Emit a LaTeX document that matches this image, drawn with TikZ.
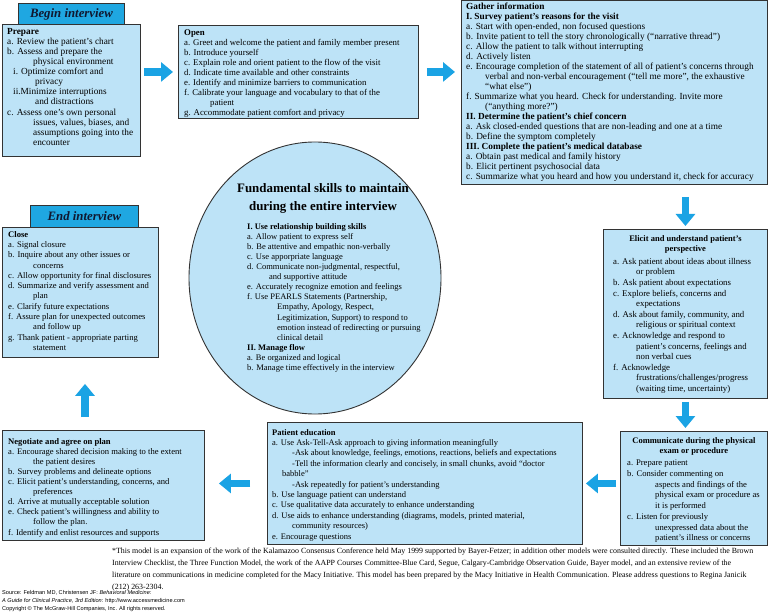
\documentclass[tikz,border=0pt]{standalone}
\usepackage{fontspec}
\setmainfont{Liberation Serif}
\setsansfont{Liberation Sans}
\usetikzlibrary{arrows.meta,calc,shapes.geometric}
\definecolor{boxfill}{HTML}{BDE3F7}
\definecolor{tabfill}{HTML}{1FA7E1}
\definecolor{arrowblue}{HTML}{1AA3E4}
\definecolor{edge}{HTML}{333333}
\definecolor{tabtext}{HTML}{101830}
\tikzset{
  panel/.style={draw=edge, line width=0.9bp, fill=boxfill, inner sep=0pt, anchor=north west},
  tabbox/.style={draw=edge, line width=0.9bp, fill=tabfill, inner sep=0pt, anchor=north west, text=tabtext, font=\fontsize{12.8bp}{14bp}\selectfont\bfseries\itshape},
  body/.style={anchor=north west, inner sep=0pt, align=left, font=\fontsize{8.6bp}{10.2bp}\selectfont},
  head/.style={anchor=north, inner sep=0pt, align=center, font=\fontsize{8.5bp}{10.7bp}\selectfont\bfseries},
  flow/.style={draw=arrowblue, line width=7.5bp, -{Triangle[width=19bp,length=12bp]}},
}
\newcommand\ind[1]{\hspace*{#1bp}}
\begin{document}
\begin{tikzpicture}[x=1bp,y=-1bp]
\useasboundingbox[fill=white] (0,0) rectangle (769,613);

% ---- Begin / Prepare
\node[tabbox, minimum width=106bp, minimum height=21bp] (begintab) at (18,3) {Begin interview};
\node[panel, minimum width=138bp, minimum height=132bp] (prep) at (2,24) {};
\node[body, font=\fontsize{9.3bp}{10.1bp}\selectfont] (preptxt) at ($(prep.north west)+(5,4)$) {\textbf{Prepare}\\
a. Review the patient's chart\\
b. Assess and prepare the\\
\ind{26}physical environment\\
\ind{6}i. Optimize comfort and\\
\ind{28}privacy\\
\ind{6}ii.Minimize interruptions\\
\ind{28}and distractions\\
c. Assess one's own personal\\
\ind{26}issues, values, biases, and\\
\ind{26}assumptions going into the\\
\ind{26}encounter};

% ---- Open
\node[panel, minimum width=240bp, minimum height=93bp] (open) at (178,25) {};
\node[body, font=\fontsize{8.8bp}{10bp}\selectfont] (opentxt) at ($(open.north west)+(6,4.5)$) {\textbf{Open}\\
a. Greet and welcome the patient and family member present\\
b. Introduce yourself\\
c. Explain role and orient patient to the flow of the visit\\
d. Indicate time available and other constraints\\
e. Identify and minimize barriers to communication\\
f. Calibrate your language and vocabulary to that of the\\
\ind{26}patient\\
g. Accommodate patient comfort and privacy};

% ---- Gather
\node[panel, minimum width=306bp, minimum height=184bp] (gather) at (461,0) {};
\node[body, font=\fontsize{9.3bp}{10bp}\selectfont] (gathertxt) at ($(gather.north west)+(5,2.5)$) {\textbf{Gather information}\\
\textbf{I. Survey patient's reasons for the visit}\\
a. Start with open-ended, non focused questions\\
b. Invite patient to tell the story chronologically (``narrative thread'')\\
c. Allow the patient to talk without interrupting\\
d. Actively listen\\
e. Encourage completion of the statement of all of patient's concerns through\\
\ind{19}verbal and non-verbal encouragement (``tell me more'', the exhaustive\\
\ind{19}``what else'')\\
f. Summarize what you heard. Check for understanding. Invite more\\
\ind{19}(``anything more?'')\\
\textbf{II. Determine the patient's chief concern}\\
a. Ask closed-ended questions that are non-leading and one at a time\\
b. Define the symptom completely\\
\textbf{III. Complete the patient's medical database}\\
a. Obtain past medical and family history\\
b. Elicit pertinent psychosocial data\\
c. Summarize what you heard and how you understand it, check for accuracy};

% ---- Elicit
\node[panel, minimum width=164bp, minimum height=169bp] (elicit) at (603,229) {};
\node[head] (elicithd) at ($(elicit.north)+(0,6)$) {Elicit and understand patient's\\perspective};
\node[body, font=\fontsize{8.8bp}{10.6bp}\selectfont] (elicittxt) at ($(elicit.north west)+(10,29)$) {a. Ask patient about ideas about illness\\
\ind{23}or problem\\
b. Ask patient about expectations\\
c. Explore beliefs, concerns and\\
\ind{23}expectations\\
d. Ask about family, community, and\\
\ind{23}religious or spiritual context\\
e. Acknowledge and respond to\\
\ind{23}patient's concerns, feelings and\\
\ind{23}non verbal cues\\
f. Acknowledge\\
\ind{23}frustrations/challenges/progress\\
\ind{23}(waiting time, uncertainty)};

% ---- Communicate
\node[panel, minimum width=147bp, minimum height=114bp] (comm) at (620,431) {};
\node[head] (commhd) at ($(comm.north)+(0,6)$) {Communicate during the physical\\exam or procedure};
\node[body, font=\fontsize{8.6bp}{10.7bp}\selectfont] (commtxt) at ($(comm.north west)+(7,29)$) {a. Prepare patient\\
b. Consider commenting on\\
\ind{28}aspects and findings of the\\
\ind{28}physical exam or procedure as\\
\ind{28}it is performed\\
c. Listen for previously\\
\ind{28}unexpressed data about the\\
\ind{28}patient's illness or concerns};

% ---- Patient education
\node[panel, minimum width=315bp, minimum height=122bp] (pated) at (267,422) {};
\node[body, font=\fontsize{8.5bp}{10.4bp}\selectfont] (patedtxt) at ($(pated.north west)+(5,7)$) {\textbf{Patient education}\\
a. Use Ask-Tell-Ask approach to giving information meaningfully\\
\ind{20}-Ask about knowledge, feelings, emotions, reactions, beliefs and expectations\\
\ind{20}-Tell the information clearly and concisely, in small chunks, avoid ``doctor\\
\ind{10}babble''\\
\ind{20}-Ask repeatedly for patient's understanding\\
b. Use language patient can understand\\
c. Use qualitative data accurately to enhance understanding\\
d. Use aids to enhance understanding (diagrams, models, printed material,\\
\ind{20}community resources)\\
e. Encourage questions};

% ---- Negotiate
\node[panel, minimum width=202bp, minimum height=110bp] (neg) at (2,430) {};
\node[body, font=\fontsize{8.6bp}{10.1bp}\selectfont] (negtxt) at ($(neg.north west)+(6,8)$) {\textbf{Negotiate and agree on plan}\\
a. Encourage shared decision making to the extent\\
\ind{25}the patient desires\\
b. Survey problems and delineate options\\
c. Elicit patient's understanding, concerns, and\\
\ind{25}preferences\\
d. Arrive at mutually acceptable solution\\
e. Check patient's willingness and ability to\\
\ind{25}follow the plan.\\
f. Identify and enlist resources and supports};

% ---- End / Close
\node[tabbox, minimum width=108bp, minimum height=22bp] (endtab) at (30,205) {End interview};
\node[panel, minimum width=156bp, minimum height=130bp] (close) at (2,227) {};
\node[body, font=\fontsize{8.6bp}{10.3bp}\selectfont] (closetxt) at ($(close.north west)+(6,4)$) {\textbf{Close}\\
a. Signal closure\\
b. Inquire about any other issues or\\
\ind{25}concerns\\
c. Allow opportunity for final disclosures\\
d. Summarize and verify assessment and\\
\ind{25}plan\\
e. Clarify future expectations\\
f. Assure plan for unexpected outcomes\\
\ind{25}and follow up\\
g. Thank patient - appropriate parting\\
\ind{25}statement};

% ---- Central circle
\node[ellipse, draw=edge, line width=0.9bp, fill=boxfill, minimum width=252bp, minimum height=272bp, inner sep=0pt] (core) at (315,278) {};
\node[inner sep=0pt, align=center, anchor=north, font=\fontsize{12.9bp}{18bp}\selectfont\bfseries] (coretitle) at (323,183) {Fundamental skills to maintain\\during the entire interview};
\node[body, font=\fontsize{8.5bp}{10.1bp}\selectfont] (corebody) at (247,223) {\textbf{I. Use relationship building skills}\\
a. Allow patient to express self\\
b. Be attentive and empathic non-verbally\\
c. Use apporpriate language\\
d. Communicate non-judgmental, respectful,\\
\ind{22}and supportive attitude\\
e. Accurately recognize emotion and feelings\\
f. Use PEARLS Statements (Partnership,\\
\ind{30}Empathy, Apology, Respect,\\
\ind{30}Legitimization, Support) to respond to\\
\ind{30}emotion instead of redirecting or pursuing\\
\ind{30}clinical detail\\
\textbf{II. Manage flow}\\
a. Be organized and logical\\
b. Manage time effectively in the interview};

% ---- connectors
\coordinate (upx) at (85,0);
\draw[flow, shorten <=3bp, shorten >=5bp] (prep.east |- open.west) -- (open.west);
\draw[flow, shorten <=8bp, shorten >=6bp] (open.east) -- (gather.west |- open.east);
\draw[flow, shorten <=12bp, shorten >=3bp] (gather.south -| elicit.north) -- (elicit.north);
\draw[flow, shorten <=3bp, shorten >=3bp] (elicit.south) -- (elicit.south |- comm.north);
\draw[flow, shorten <=4bp, shorten >=3bp] (comm.west |- pated.east) -- (pated.east);
\draw[flow, shorten <=17bp, shorten >=14bp] (pated.west) -- (pated.west -| neg.east);
\draw[flow, shorten <=13bp, shorten >=26bp] (neg.north -| upx) -- (close.south -| upx);

% ---- footnote
\node[anchor=north west, inner sep=0pt, align=left, font=\fontsize{7.9bp}{11.9bp}\selectfont] (note) at (112,548) {*This model is an expansion of the work of the Kalamazoo Consensus Conference held May 1999 supported by Bayer-Fetzer; in addition other models were consulted directly. These included the Brown\\
Interview Checklist, the Three Function Model, the work of the AAPP Courses Committee-Blue Card, Segue, Calgary-Cambridge Observation Guide, Bayer model, and an extensive review of the\\
literature on communications in medicine completed for the Macy Initiative. This model has been prepared by the Macy Initiative in Health Communication. Please address questions to Regina Janicik\\
(212) 263-2304.};
\node[anchor=north west, inner sep=0pt, align=left, font=\sffamily\fontsize{5.6bp}{8.2bp}\selectfont] (src) at (2,590) {Source: Feldman MD, Christensen JF: \textit{Behavioral Medicine:}\\
\textit{A Guide for Clinical Practice, 3rd Edition}: http://www.accessmedicine.com\\
Copyright \textcopyright{} The McGraw-Hill Companies, Inc. All rights reserved.};
\end{tikzpicture}
\end{document}
